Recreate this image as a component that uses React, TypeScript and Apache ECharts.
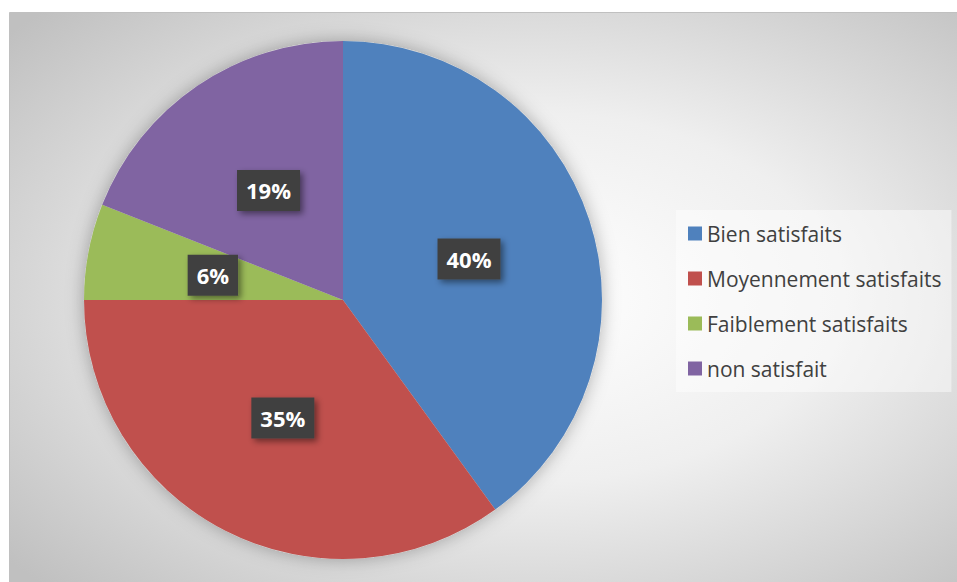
import React, { useEffect, useRef } from "react";
import * as echarts from "echarts";

const categories = ["Bien satisfaits", "Moyennement satisfaits", "Faiblement satisfaits", "non satisfait"];
const values = [40, 35, 6, 19];
const colors = ["#4F81BD", "#C0504D", "#9BBB59", "#8064A2"];

export default function App() {
  const ref = useRef<HTMLDivElement>(null);
  useEffect(() => {
    if (!ref.current) return;
    const chart = echarts.init(ref.current, null, { renderer: "svg" });
    const font = "'Open Sans', 'Noto Sans', sans-serif";
    chart.setOption({
      animation: false,
      graphic: [
        {
          type: "rect",
          z: -10,
          silent: true,
          shape: { x: 9.5, y: 12.5, width: 948, height: 570 },
          style: {
            fill: new echarts.graphic.RadialGradient(0.55, 0.5, 0.72, [
              { offset: 0, color: "#ffffff" },
              { offset: 0.45, color: "#efefef" },
              { offset: 1, color: "#c0c0c0" },
            ]),
            stroke: "#c0c0c0",
            lineWidth: 1,
          },
        },
      ],
      legend: {
        orient: "vertical",
        left: 676,
        top: 210,
        data: categories,
        backgroundColor: "rgba(255,255,255,0.45)",
        padding: [12, 10, 12, 12],
        itemWidth: 14,
        itemHeight: 14,
        itemGap: 22,
        icon: "rect",
        textStyle: { fontFamily: font, fontSize: 21, color: "#404040", lineHeight: 23 },
      },
      series: [
        {
          type: "pie",
          silent: true,
          center: [343, 300],
          radius: 259,
          z: 1,
          label: { show: false },
          labelLine: { show: false },
          itemStyle: { color: "#dddddd", shadowColor: "rgba(0,0,0,0.3)", shadowBlur: 18 },
          data: [{ value: 1, name: "__shadow" }],
        },
        {
          type: "pie",
          center: [343, 300],
          radius: 259,
          startAngle: 90,
          clockwise: true,
          z: 2,
          data: categories.map((c, i) => ({ name: c, value: values[i], itemStyle: { color: colors[i] } })),
          labelLine: { show: false },
          label: {
            show: true,
            position: "inside",
            formatter: (p: any) => `${p.value}%`,
            color: "#ffffff",
            fontFamily: font,
            fontWeight: "bold",
            fontSize: 22,
            lineHeight: 24,
            backgroundColor: "#404040",
            padding: [9, 9, 8, 9],
            shadowColor: "rgba(0,0,0,0.45)",
            shadowBlur: 6,
            shadowOffsetX: 3,
            shadowOffsetY: 3,
          },
        },
      ],
    });
    return () => chart.dispose();
  }, []);
  return <div ref={ref} style={{ position: "absolute", left: 0, top: 0, width: 957, height: 582 }} />;
}
